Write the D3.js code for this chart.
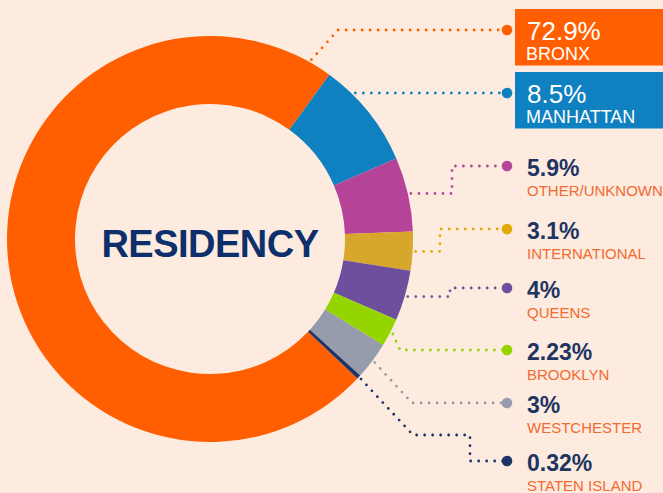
<!DOCTYPE html>
<html>
<head>
<meta charset="utf-8">
<script src="https://cdn.jsdelivr.net/npm/d3@7"></script>
<style>
  html, body { margin: 0; padding: 0; background: #fdebdf; }
  svg { display: block; font-family: "Liberation Sans", Arial, sans-serif; }
</style>
</head>
<body>
<div id="chart"></div>
<script>
// data
var categories = ['BRONX', 'MANHATTAN', 'OTHER/UNKNOWN', 'INTERNATIONAL', 'QUEENS', 'BROOKLYN', 'WESTCHESTER', 'STATEN ISLAND'];
var values = [72.9, 8.5, 5.9, 3.1, 4, 2.23, 3, 0.32];
var valueLabels = ['72.9%', '8.5%', '5.9%', '3.1%', '4%', '2.23%', '3%', '0.32%'];
var colors = ['#ff5f00', '#0f80c0', '#b54397', '#d6a72a', '#6e4f9e', '#94d500', '#979cad', '#1d3566'];
var leaderColors = ['#ff5f00', '#0f80c0', '#b5479b', '#e0aa00', '#6e4f9e', '#94d500', '#979cad', '#1d3566'];
var boxed = [true, true, false, false, false, false, false, false];

// layout
var width = 663, height = 493;
var cx = 210, cy = 239, outerR = 203, innerR = 135;
var dotX = 507, textX = 527;
var labelY = [30, 93, 166, 229, 288, 350, 403, 461];
var routes = [
  {type: 'diag', x: 338},
  {type: 'flat'},
  {type: 'elbow', x: 452},
  {type: 'elbow', x: 440},
  {type: 'elbow', x: 450},
  {type: 'diag', x: 400},
  {type: 'diag', x: 412},
  {type: 'stair', x: 413, y: 435, x2: 470}
];

var svg = d3.select('#chart').append('svg')
    .attr('width', width)
    .attr('height', height);

svg.append('rect')
    .attr('width', width)
    .attr('height', height)
    .attr('fill', '#fdebdf');

var total = d3.sum(values);
var start = 36 * Math.PI / 180 - 2 * Math.PI * values[0] / total;

var pie = d3.pie()
    .sort(null)
    .value(function(d) { return d; })
    .startAngle(start)
    .endAngle(start + 2 * Math.PI);

var arcs = pie(values);

var arc = d3.arc()
    .innerRadius(innerR)
    .outerRadius(outerR);

var g = svg.append('g')
    .attr('transform', 'translate(' + cx + ',' + cy + ')');

g.selectAll('path.slice')
    .data(arcs)
    .enter().append('path')
    .attr('class', 'slice')
    .attr('d', arc)
    .attr('fill', function(d, i) { return colors[i]; });

// center title
svg.append('text')
    .attr('x', cx)
    .attr('y', 257)
    .attr('text-anchor', 'middle')
    .attr('font-size', 38)
    .attr('font-weight', 'bold')
    .attr('letter-spacing', -0.5)
    .attr('fill', '#0d2f6b')
    .text('RESIDENCY');

// leader lines
function pointAt(angle, r) {
  return [cx + r * Math.sin(angle), cy - r * Math.cos(angle)];
}

var leaderR = 206;

arcs.forEach(function(d, i) {
  var r = routes[i];
  var y = labelY[i];
  var pts = [];
  if (r.type === 'flat') {
    var dy = y - cy;
    pts.push([cx + Math.sqrt(leaderR * leaderR - dy * dy), y]);
  } else {
    var a = (d.startAngle + d.endAngle) / 2;
    if (i === 0) a = d.endAngle - 6.5 * Math.PI / 180;
    var p0 = pointAt(a, leaderR);
    pts.push(p0);
    if (r.type === 'diag') {
      pts.push([r.x, y]);
    } else if (r.type === 'elbow') {
      pts.push([r.x, p0[1]]);
      pts.push([r.x, y]);
    } else if (r.type === 'stair') {
      pts.push([r.x, r.y]);
      pts.push([r.x2, r.y]);
      pts.push([r.x2, y]);
    }
  }
  pts.push([dotX, y]);

  svg.append('path')
      .attr('d', d3.line()(pts))
      .attr('fill', 'none')
      .attr('stroke', leaderColors[i])
      .attr('stroke-width', 2.8)
      .attr('stroke-linecap', 'round')
      .attr('stroke-dasharray', '0,8');

  svg.append('circle')
      .attr('cx', dotX)
      .attr('cy', y)
      .attr('r', 5.3)
      .attr('fill', leaderColors[i]);
});

// labels
categories.forEach(function(c, i) {
  var y = labelY[i];
  if (boxed[i]) {
    svg.append('rect')
        .attr('x', 515)
        .attr('y', y - 21)
        .attr('width', width - 515)
        .attr('height', 56.5)
        .attr('fill', colors[i]);
    svg.append('text')
        .attr('x', textX)
        .attr('y', y + 9.5)
        .attr('font-size', 26)
        .attr('fill', '#ffffff')
        .text(valueLabels[i]);
    svg.append('text')
        .attr('x', textX - 1)
        .attr('y', y + 29.5)
        .attr('font-size', 18)
        .attr('fill', '#ffffff')
        .text(c);
  } else {
    svg.append('text')
        .attr('x', textX)
        .attr('y', y + 10)
        .attr('font-size', 23)
        .attr('font-weight', 'bold')
        .attr('fill', '#1e3461')
        .text(valueLabels[i]);
    svg.append('text')
        .attr('x', textX)
        .attr('y', y + 30)
        .attr('font-size', 15)
        .attr('fill', '#f26a30')
        .text(c);
  }
});
</script>
</body>
</html>
